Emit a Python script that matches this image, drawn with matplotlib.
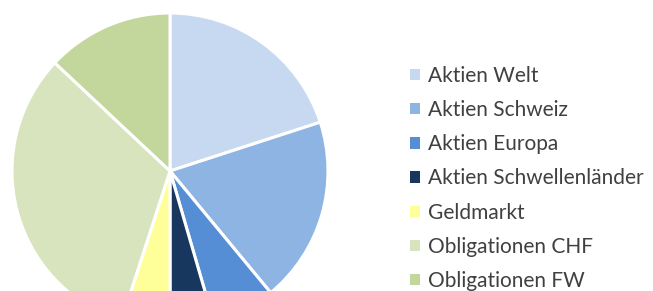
import matplotlib.pyplot as plt
from matplotlib.patches import Patch

labels = ["Aktien Welt", "Aktien Schweiz", "Aktien Europa",
          "Aktien Schwellenländer", "Geldmarkt", "Obligationen CHF",
          "Obligationen FW"]
shares = [20, 19, 6.5, 4.5, 5, 32, 13]
colors = ["#C6D9F0", "#8EB4E3", "#558ED5", "#17375E", "#FFFF99",
          "#D7E4BD", "#C3D69B"]

W, H = 653, 291

fig = plt.figure(figsize=(W / 100, H / 100), dpi=100)
ax = fig.add_axes([0, 0, 1, 1])

ax.pie(shares, colors=colors, startangle=90, counterclock=False,
       center=(170, H - 171), radius=158,
       wedgeprops=dict(edgecolor="white", linewidth=2.2))
ax.set_xlim(0, W)
ax.set_ylim(0, H)
ax.set_aspect("equal")
ax.axis("off")

handles = [Patch(facecolor=c, edgecolor="none") for c in colors]
leg = ax.legend(handles, labels, loc="upper left",
                bbox_to_anchor=(410 / W, 1 - 66 / H),
                frameon=False, handlelength=0.47,
                handleheight=0.47, handletextpad=0.4, labelspacing=0.68,
                borderpad=0, borderaxespad=0,
                prop={"family": "Lato", "size": 15})
for t in leg.get_texts():
    t.set_color("#404040")

fig.savefig("out.png", dpi=100)
